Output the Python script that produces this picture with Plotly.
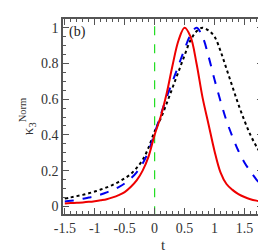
import plotly.graph_objects as go

t = [-1.5, -1.4, -1.3, -1.2, -1.1, -1.0, -0.9, -0.8, -0.7, -0.6, -0.5, -0.4, -0.3, -0.2, -0.1,
     0.0, 0.1, 0.2, 0.3, 0.4, 0.5, 0.6, 0.7, 0.8, 0.9, 1.0, 1.1, 1.2, 1.3, 1.4, 1.5, 1.6, 1.7, 1.8]

red = [0.016, 0.018, 0.020, 0.022, 0.025, 0.029, 0.034, 0.040, 0.050, 0.063, 0.080, 0.108, 0.145, 0.20, 0.28,
       0.40, 0.50, 0.63, 0.79, 0.93, 1.0, 0.95, 0.80, 0.61, 0.46, 0.31, 0.19, 0.125, 0.092, 0.068, 0.052, 0.040, 0.032, 0.026]

blue = [0.027, 0.031, 0.036, 0.042, 0.049, 0.056, 0.066, 0.078, 0.092, 0.108, 0.128, 0.155, 0.19, 0.24, 0.31,
        0.41, 0.51, 0.61, 0.70, 0.79, 0.88, 0.96, 1.0, 0.95, 0.84, 0.71, 0.59, 0.48, 0.39, 0.31, 0.246, 0.195, 0.15, 0.11]

black = [0.043, 0.050, 0.057, 0.064, 0.073, 0.083, 0.094, 0.106, 0.12, 0.137, 0.157, 0.18, 0.215, 0.26, 0.33,
         0.42, 0.49, 0.575, 0.665, 0.755, 0.845, 0.93, 0.98, 1.0, 0.985, 0.95, 0.87, 0.77, 0.67, 0.57, 0.48, 0.40, 0.335, 0.283]

marker_t = [0, 0]
marker_y = [-0.05, 1.06]

fig = go.Figure()
fig.add_trace(go.Scatter(x=marker_t, y=marker_y, mode="lines",
                         line=dict(color="#22dd22", width=1.2, dash="dash")))
fig.add_trace(go.Scatter(x=t, y=black, mode="lines", line_shape="spline",
                         line=dict(color="black", width=2, dash="dot")))
fig.add_trace(go.Scatter(x=t, y=blue, mode="lines", line_shape="spline",
                         line=dict(color="#0000ee", width=2, dash="dash")))
fig.add_trace(go.Scatter(x=t, y=red, mode="lines", line_shape="spline",
                         line=dict(color="#ee0000", width=2)))

axis_common = dict(showgrid=False, zeroline=False, showline=True, linecolor="#555555",
                   linewidth=1.5, mirror="allticks", ticks="inside", tickcolor="#555555",
                   ticklen=6, tickwidth=1,
                   tickfont=dict(family="Liberation Serif", size=14, color="#333333"))

fig.update_layout(
    width=266, height=252,
    margin=dict(l=55, r=9, t=9, b=42),
    plot_bgcolor="white", paper_bgcolor="white",
    showlegend=False,
    xaxis=dict(range=[-1.53, 1.81], tickvals=[-1.5, -1, -0.5, 0, 0.5, 1, 1.5],
               ticktext=["-1.5", "-1", "-0.5", "0", "0.5", "1", "1.5"],
               minor=dict(dtick=0.1, tick0=0, ticks="inside", ticklen=3, tickcolor="#555555"),
               title=dict(text="t", font=dict(family="Liberation Serif", size=15, color="#333333"),
                          standoff=5),
               **axis_common),
    yaxis=dict(range=[-0.043, 1.049], tickvals=[0, 0.2, 0.4, 0.6, 0.8, 1],
               ticktext=["0", "0.2", "0.4", "0.6", "0.8", "1"],
               minor=dict(dtick=0.05, tick0=0, ticks="inside", ticklen=3, tickcolor="#555555"),
               title=dict(text="κ<sub>3</sub><sup>Norm</sup>",
                          font=dict(family="Liberation Serif", size=15, color="#333333"),
                          standoff=4),
               **axis_common),
    annotations=[dict(text="(b)", x=0.02, y=0.985, xref="paper", yref="paper",
                      xanchor="left", yanchor="top", showarrow=False,
                      font=dict(family="Liberation Serif", size=14, color="#222222"))],
)

fig.write_html("out.html")
